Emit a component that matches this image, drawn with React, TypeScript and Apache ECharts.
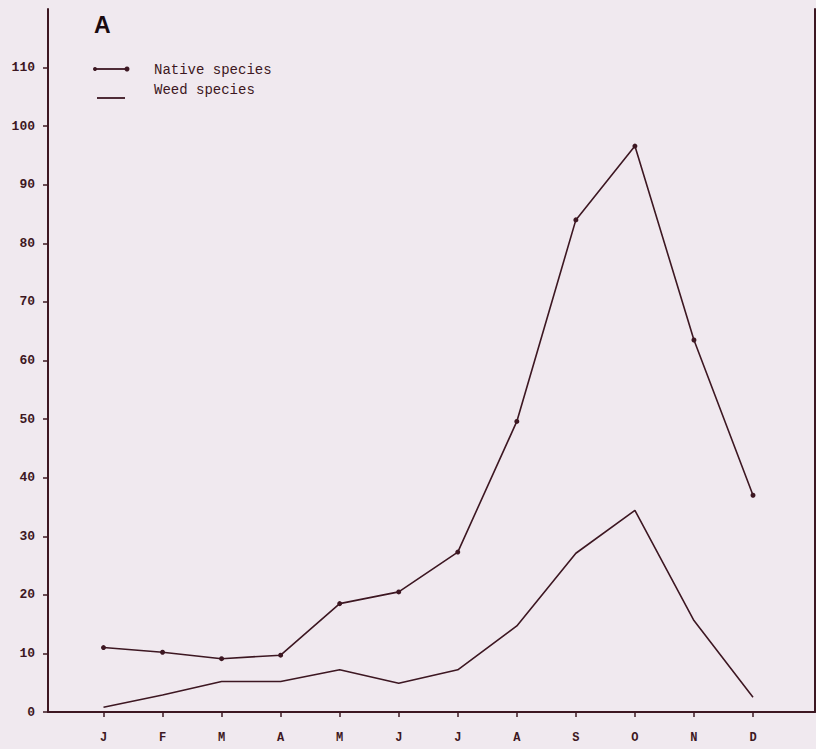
import React, { useEffect, useRef } from "react";
import * as echarts from "echarts";

const months = ["J", "F", "M", "A", "M", "J", "J", "A", "S", "O", "N", "D"];
const nativeValues = [11.0, 10.2, 9.1, 9.7, 18.5, 20.5, 27.3, 49.6, 84.0, 96.6, 63.5, 37.0];
const weedValues = [0.8, 2.9, 5.2, 5.2, 7.2, 4.9, 7.2, 14.7, 27.1, 34.4, 15.6, 2.5];
const yTickValues = [0, 10, 20, 30, 40, 50, 60, 70, 80, 90, 100, 110];
const monthIndex = months.map((_, i) => i);

const INK = "#3d1722";
const BG = "#f0e9ef";

export default function App() {
  const ref = useRef<HTMLDivElement>(null);
  useEffect(() => {
    if (!ref.current) return;
    const chart = echarts.init(ref.current, undefined, { renderer: "svg" });
    const nativeData = nativeValues.map((v, i) => [i, v]);
    const weedData = weedValues.map((v, i) => [i, v]);
    chart.setOption({
      animation: false,
      backgroundColor: BG,
      grid: { left: 48, right: 1, top: 9, bottom: 37, containLabel: false },
      xAxis: {
        type: "value",
        min: -0.94,
        max: 12.05,
        splitLine: { show: false },
        axisLine: { show: true, onZero: false, lineStyle: { color: INK, width: 2 } },
        axisTick: {
          show: true,
          inside: false,
          length: 5,
          customValues: monthIndex,
          lineStyle: { color: INK, width: 1.5 },
        },
        axisLabel: {
          customValues: monthIndex,
          formatter: (v: number) => months[Math.round(v)] ?? "",
          color: INK,
          fontFamily: "Liberation Mono",
          fontWeight: "bold",
          fontSize: 12,
          margin: 20,
        },
      },
      yAxis: [
        {
          type: "value",
          min: 0,
          max: 120,
          interval: 10,
          splitLine: { show: false },
          axisLine: { show: true, onZero: false, lineStyle: { color: INK, width: 2 } },
          axisTick: {
            show: true,
            length: 5,
            customValues: yTickValues,
            lineStyle: { color: INK, width: 1.5 },
          },
          axisLabel: {
            customValues: yTickValues,
            color: INK,
            fontFamily: "Liberation Mono",
            fontWeight: "bold",
            fontSize: 13,
            margin: 13,
          },
        },
        {
          type: "value",
          position: "right",
          min: 0,
          max: 120,
          splitLine: { show: false },
          axisLine: { show: true, onZero: false, lineStyle: { color: INK, width: 2 } },
          axisTick: { show: false },
          axisLabel: { show: false },
        },
      ],
      series: [
        {
          name: "Native species",
          type: "line",
          data: nativeData,
          symbol: "circle",
          symbolSize: 5,
          showSymbol: true,
          lineStyle: { color: INK, width: 1.6 },
          itemStyle: { color: INK },
        },
        {
          name: "Weed species",
          type: "line",
          data: weedData,
          symbol: "none",
          lineStyle: { color: INK, width: 1.6 },
        },
      ],
      graphic: [
        {
          type: "text",
          left: 94,
          top: 13,
          style: { text: "A", font: "bold 23px 'Liberation Sans'", fill: "#1a0a10" },
        },
        {
          type: "line",
          shape: { x1: 95, y1: 69, x2: 127, y2: 69 },
          style: { stroke: INK, lineWidth: 1.8 },
        },
        { type: "circle", shape: { cx: 95, cy: 69, r: 2 }, style: { fill: INK } },
        { type: "circle", shape: { cx: 127, cy: 69, r: 2.5 }, style: { fill: INK } },
        {
          type: "text",
          left: 154,
          top: 63,
          style: { text: "Native species", font: "14px 'Liberation Mono'", fill: INK },
        },
        {
          type: "line",
          shape: { x1: 97, y1: 98, x2: 125, y2: 98 },
          style: { stroke: INK, lineWidth: 1.8 },
        },
        {
          type: "text",
          left: 154,
          top: 83,
          style: { text: "Weed species", font: "14px 'Liberation Mono'", fill: INK },
        },
      ],
    });
    return () => chart.dispose();
  }, []);
  return (
    <div
      ref={ref}
      style={{ position: "fixed", left: 0, top: 0, width: 816, height: 749 }}
    />
  );
}
